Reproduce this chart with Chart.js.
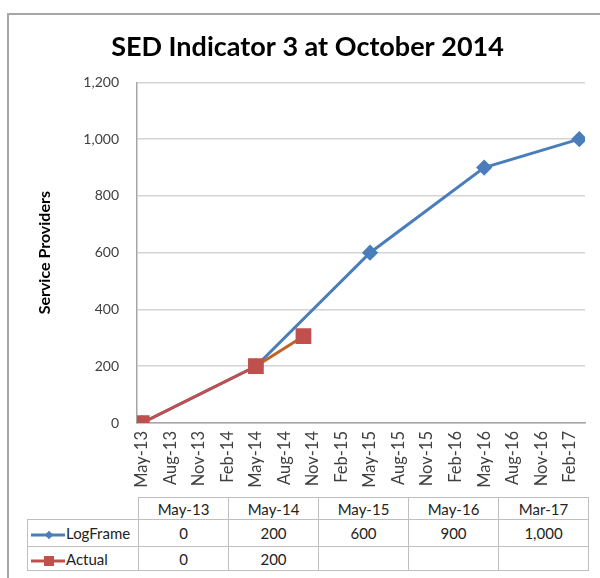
<!DOCTYPE html>
<html>
<head>
<meta charset="utf-8">
<script src="https://cdn.jsdelivr.net/npm/chart.js@4"></script>
<style>
  body { margin: 0; background: #fff; font-family: Lato, sans-serif; }
  #frame {
    position: absolute; left: 7px; top: 13px; width: 600px; height: 570px;
    border-left: 2px solid #a6a6a6; border-top: 2px solid #a6a6a6;
  }
  #chart { position: absolute; left: 0; top: 0; }
  #data-table {
    position: absolute; left: 27px; top: 497px;
    border-collapse: collapse; font-size: 15px; color: #222;
  }
  #data-table td {
    border: 1px solid #bfbfbf; text-align: center; padding: 0; width: 89px;
  }
  #data-table td.series { width: 110px; text-align: left; white-space: nowrap; }
  #data-table td.blank { border-top: none; border-left: none; }
  #data-table tr.head td { height: 21px; }
  #data-table tr.row1 td { height: 26px; }
  #data-table tr.row2 td { height: 23px; }
  #data-table svg { vertical-align: middle; margin: 0 1px 0 3px; }
</style>
</head>
<body>
<div id="frame"></div>
<canvas id="chart" width="600" height="495"></canvas>
<table id="data-table"></table>
<script>
const tickLabels = ['May-13', 'Aug-13', 'Nov-13', 'Feb-14', 'May-14', 'Aug-14', 'Nov-14', 'Feb-15',
  'May-15', 'Aug-15', 'Nov-15', 'Feb-16', 'May-16', 'Aug-16', 'Nov-16', 'Feb-17']

const logFrameDates = ['May-13', 'May-14', 'May-15', 'May-16', 'Mar-17']
const logFrameValues = [0, 200, 600, 900, 1000]

const actualDates = ['May-13', 'May-14', 'Oct-14']
const actualValues = [0, 200, 306]

const tableColumns = ['May-13', 'May-14', 'May-15', 'May-16', 'Mar-17']

const blue = '#4a7ebb'
const red = '#c0504d'
const orange = '#bf6424'

const monthNames = ['Jan', 'Feb', 'Mar', 'Apr', 'May', 'Jun', 'Jul', 'Aug', 'Sep', 'Oct', 'Nov', 'Dec']

// months counted from May-13
function monthIndex(label) {
  const [m, y] = label.split('-')
  return (+y - 13) * 12 + monthNames.indexOf(m) - 4
}

const fmt = v => v.toLocaleString('en-US')

new Chart(document.getElementById('chart'), {
  type: 'line',
  data: {
    datasets: [{
      label: 'LogFrame',
      data: logFrameDates.map((d, i) => ({ x: monthIndex(d), y: logFrameValues[i] })),
      borderColor: blue,
      backgroundColor: blue,
      borderWidth: 3,
      pointStyle: 'rectRot',
      pointRadius: 6,
      pointHoverRadius: 6,
      order: 1
    }, {
      label: 'Actual',
      data: actualDates.map((d, i) => ({ x: monthIndex(d), y: actualValues[i] })),
      borderColor: red,
      backgroundColor: red,
      borderWidth: 3,
      pointStyle: 'rect',
      pointRadius: 9,
      pointHoverRadius: 9,
      segment: {
        borderColor: ctx => ctx.p0DataIndex === 1 ? orange : undefined
      },
      order: 0
    }]
  },
  options: {
    responsive: false,
    animation: false,
    layout: { padding: { left: 30, right: 15, top: 0, bottom: 0 } },
    scales: {
      x: {
        type: 'linear',
        min: -0.5,
        max: 46.6,
        afterBuildTicks: scale => {
          scale.ticks = tickLabels.map((t, i) => ({ value: i * 3 }))
        },
        afterFit: scale => { scale.height = 72 },
        grid: { display: false, drawTicks: false },
        border: { color: '#a6a6a6', width: 1.5 },
        ticks: {
          autoSkip: false,
          minRotation: 90,
          maxRotation: 90,
          padding: 8,
          color: '#404040',
          font: { family: 'Lato', size: 16.5 },
          callback: v => tickLabels[v / 3]
        }
      },
      y: {
        min: 0,
        max: 1200,
        afterFit: scale => { scale.width = 107 },
        grid: { color: '#d4d4d4', lineWidth: 1.5, drawTicks: false },
        border: { color: '#a6a6a6', width: 1.5 },
        ticks: {
          stepSize: 200,
          padding: 18,
          color: '#404040',
          font: { family: 'Lato', size: 14 },
          callback: v => fmt(v)
        },
        title: {
          display: true,
          text: 'Service Providers',
          color: '#000',
          padding: { top: 5, bottom: 0 },
          font: { family: 'Lato', size: 16, weight: 'bold' }
        }
      }
    },
    plugins: {
      legend: { display: false },
      tooltip: { enabled: false },
      title: {
        display: true,
        text: 'SED Indicator 3 at October 2014',
        color: '#000',
        padding: { top: 31, bottom: 19 },
        font: { family: 'Lato', size: 27, weight: 'bold' }
      }
    }
  }
})

// data table under the chart
function legendIcon(color, shape) {
  const marker = shape === 'diamond'
    ? `<rect x="15" y="2" width="6" height="6" fill="${color}" transform="rotate(45 18 5)"/>`
    : `<rect x="13" y="0" width="10" height="10" fill="${color}"/>`
  return `<svg width="34" height="10"><line x1="0" y1="5" x2="34" y2="5" stroke="${color}" stroke-width="3"/>${marker}</svg>`
}

function cellFor(dates, values, col) {
  const i = dates.indexOf(col)
  return i === -1 ? '' : fmt(values[i])
}

const table = document.getElementById('data-table')
table.innerHTML = `
  <tr class="head"><td class="series blank"></td>${tableColumns.map(c => `<td>${c}</td>`).join('')}</tr>
  <tr class="row1"><td class="series">${legendIcon(blue, 'diamond')}LogFrame</td>${tableColumns.map(c => `<td>${cellFor(logFrameDates, logFrameValues, c)}</td>`).join('')}</tr>
  <tr class="row2"><td class="series">${legendIcon(red, 'square')}Actual</td>${tableColumns.map(c => `<td>${cellFor(actualDates, actualValues, c)}</td>`).join('')}</tr>
`
</script>
</body>
</html>
